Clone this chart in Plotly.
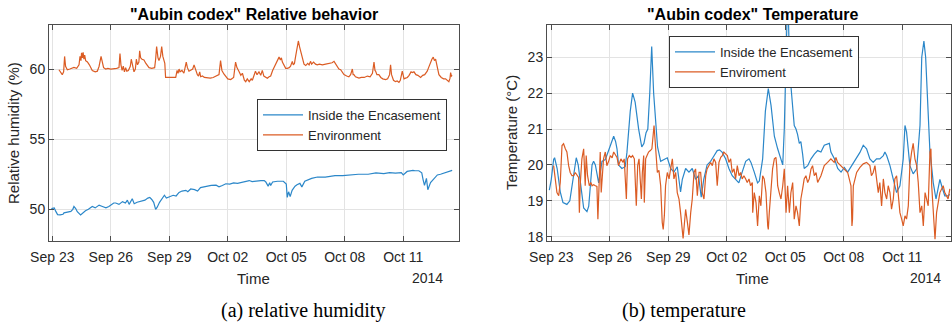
import numpy as np
import pandas as pd
import plotly.graph_objects as go

BASE = pd.Timestamp("2014-09-23")

# ---------------- (a) relative humidity ----------------
rh_env_days = [0.34,0.45,0.51,0.58,0.63,0.68,0.77,0.9,1.0,1.11,1.25,1.37,1.42,1.47,1.5,1.54,1.58,1.62,1.66,1.71,1.8,1.9,2.05,2.2,2.31,2.4,2.5,2.56,2.63,2.74,2.85,3.0,3.15,3.3,3.42,3.47,3.52,3.58,3.64,3.7,3.76,3.82,3.9,4.0,4.05,4.12,4.19,4.26,4.31,4.37,4.44,4.48,4.53,4.6,4.7,4.8,4.96,5.1,5.25,5.3,5.35,5.42,5.47,5.55,5.61,5.67,5.73,5.77,5.81,5.95,6.1,6.25,6.33,6.4,6.45,6.5,6.55,6.65,6.75,6.87,6.93,7.01,7.1,7.2,7.27,7.35,7.44,7.5,7.56,7.61,7.7,7.8,7.95,8.1,8.25,8.4,8.55,8.63,8.7,8.8,8.9,9.0,9.15,9.3,9.4,9.47,9.57,9.67,9.75,9.85,9.92,10.0,10.1,10.2,10.26,10.34,10.42,10.5,10.6,10.69,10.77,10.85,10.95,11.03,11.12,11.2,11.3,11.37,11.45,11.55,11.63,11.7,11.75,11.8,11.9,11.97,12.05,12.15,12.22,12.31,12.36,12.42,12.48,12.55,12.62,12.68,12.74,12.8,12.91,13.0,13.1,13.17,13.25,13.3,13.4,13.5,13.59,13.7,13.85,14.02,14.2,14.35,14.45,14.55,14.62,14.7,14.79,14.88,14.96,15.1,15.21,15.3,15.39,15.43,15.47,15.55,15.65,15.73,15.85,16.0,16.16,16.3,16.42,16.5,16.55,16.58,16.65,16.75,16.85,16.95,17.1,17.2,17.3,17.35,17.4,17.44,17.5,17.6,17.69,17.78,17.85,17.95,18.0,18.04,18.12,18.21,18.3,18.4,18.46,18.55,18.65,18.75,18.89,19.0,19.1,19.23,19.3,19.4,19.47,19.54,19.6,19.66,19.71,19.77,19.83,19.95,20.07,20.17,20.27,20.34,20.4,20.43,20.47,20.51]
rh_env = [59.95,59.7,59.6,59.8,60.9,60.2,59.95,60.0,60.05,60.12,60.05,60.3,60.9,60.6,61.15,60.8,61.2,60.7,61.0,60.6,60.5,60.3,59.9,59.8,59.85,60.2,60.9,60.4,60.1,60.0,60.05,60.0,60.0,60.05,60.1,61.1,60.3,59.9,60.2,59.8,60.1,59.85,59.9,60.2,60.7,60.1,59.8,60.0,60.7,60.3,60.5,61.3,60.8,60.7,60.65,60.4,60.1,60.05,60.1,60.7,61.6,60.8,60.6,60.9,61.6,60.9,60.6,60.4,59.4,59.4,59.35,59.4,59.4,59.9,59.7,60.0,59.8,59.9,59.7,60.5,60.1,59.85,59.9,60.0,60.3,59.9,59.6,59.5,59.8,59.45,59.5,59.4,59.35,59.35,59.4,59.5,59.6,60.6,59.9,59.65,59.5,59.3,59.25,59.4,60.5,60.1,59.85,59.55,59.7,59.2,59.1,59.3,59.1,59.3,59.2,59.6,59.85,59.6,59.8,59.55,59.9,59.5,59.4,59.35,59.45,59.5,59.9,60.1,60.3,60.7,60.85,60.65,60.8,60.5,60.2,60.05,60.05,60.1,60.2,60.55,60.3,60.4,60.9,61.4,62.0,61.6,61.3,60.9,60.35,60.25,60.4,60.3,60.55,60.35,60.5,60.35,60.3,60.35,60.3,60.35,60.4,60.45,60.55,60.3,60.2,60.0,59.95,59.75,59.6,59.5,59.45,59.6,60.0,59.6,59.6,59.45,59.4,59.35,59.4,59.4,59.5,59.45,59.7,60.5,59.9,59.85,59.6,59.6,59.4,59.3,59.25,59.3,59.6,60.3,59.6,59.35,59.2,59.1,59.15,59.05,59.2,59.85,59.5,59.3,59.35,59.4,59.55,59.8,59.75,59.8,59.6,59.55,59.4,59.55,59.6,59.85,60.1,60.5,60.7,60.85,60.6,60.7,60.3,59.9,59.6,59.4,59.3,59.3,59.2,59.1,59.35,59.75,59.5,59.55]

rh_in_days = [-0.05,0.1,0.18,0.27,0.4,0.55,0.6,0.8,0.95,1.05,1.11,1.2,1.28,1.45,1.55,1.7,1.85,1.97,2.05,2.2,2.4,2.57,2.75,2.9,3.0,3.15,3.25,3.42,3.6,3.75,3.85,3.94,4.1,4.2,4.35,4.55,4.75,4.9,5.0,5.1,5.2,5.3,5.38,5.5,5.65,5.75,5.85,6.0,6.2,6.35,6.5,6.65,6.85,6.95,7.1,7.3,7.45,7.6,7.75,7.95,8.15,8.4,8.55,8.72,8.9,9.1,9.3,9.5,9.7,9.9,10.1,10.25,10.34,10.5,10.7,10.87,10.95,11.07,11.15,11.2,11.3,11.55,11.85,12.0,12.05,12.12,12.2,12.3,12.45,12.55,12.7,12.8,12.95,13.3,13.6,14.0,14.2,14.5,14.9,15.3,15.7,16.2,16.6,17.0,17.3,17.6,17.9,18.0,18.2,18.5,18.6,18.8,18.95,19.02,19.09,19.19,19.26,19.4,19.57,19.75,19.91,20.1,20.26,20.4,20.51]
rh_in = [50.05,50.1,49.85,49.62,49.6,49.65,49.75,49.8,49.85,50.0,50.2,50.05,49.83,49.6,49.75,49.9,50.0,50.1,50.2,50.1,50.3,50.2,50.1,50.2,50.3,50.45,50.45,50.35,50.55,50.45,50.65,50.35,50.75,50.4,50.5,50.6,50.65,50.8,50.85,50.7,50.5,50.0,50.15,50.5,50.8,51.0,50.8,50.9,51.0,50.95,51.2,51.3,51.35,51.25,51.45,51.4,51.3,51.55,51.6,51.65,51.7,51.72,51.6,51.7,51.82,51.8,51.88,51.85,51.9,51.95,52.05,51.98,52.0,52.0,52.05,52.05,51.95,51.65,51.9,51.7,51.95,52.0,52.0,51.8,50.85,51.25,50.9,51.35,51.65,51.75,51.85,51.6,52.0,52.2,52.3,52.3,52.35,52.4,52.4,52.45,52.5,52.5,52.6,52.55,52.62,52.58,52.62,52.45,52.7,52.78,52.75,52.75,52.6,52.1,51.7,52.2,51.4,51.9,52.2,52.45,52.5,52.6,52.65,52.72,52.78]

# ---------------- (b) temperature ----------------
t_in_days = [-0.1,0.0,0.12,0.17,0.3,0.46,0.6,0.8,0.95,1.15,1.28,1.38,1.49,1.57,1.66,1.83,1.92,2.09,2.17,2.26,2.43,2.6,2.77,2.94,3.1,3.2,3.3,3.37,3.45,3.62,3.79,3.88,4.05,4.17,4.3,4.48,4.64,4.75,4.86,4.95,5.05,5.15,5.25,5.35,5.45,5.61,5.78,5.95,6.12,6.29,6.46,6.63,6.72,6.89,7.06,7.23,7.4,7.55,7.69,7.82,7.99,8.17,8.34,8.51,8.63,8.77,8.94,9.11,9.28,9.45,9.62,9.79,9.97,10.14,10.24,10.41,10.58,10.67,10.84,10.98,11.13,11.27,11.44,11.61,11.78,11.87,11.95,12.04,12.1,12.17,12.21,12.29,12.38,12.46,12.55,12.63,12.72,12.8,12.89,12.97,13.15,13.32,13.49,13.66,13.83,14.0,14.26,14.34,14.52,14.69,14.86,15.03,15.2,15.32,15.49,15.66,15.83,16.0,16.17,16.34,16.51,16.68,16.85,17.03,17.11,17.2,17.37,17.54,17.71,17.88,18.05,18.14,18.22,18.39,18.56,18.74,18.91,19.0,19.11,19.2,19.33,19.42,19.5,19.59,19.73,19.85,19.93,20.02,20.18,20.35,20.44]
t_in = [19.3,19.6,20.15,20.2,19.9,19.25,18.95,18.9,19.0,19.8,20.2,20.0,19.5,19.05,18.8,18.7,18.85,20.0,20.1,20.0,19.5,20.1,20.15,20.4,20.65,20.8,20.65,20.45,20.0,19.9,19.95,20.35,21.5,22.0,21.75,21.0,20.5,20.6,20.9,21.0,22.0,23.3,22.0,21.1,20.5,20.1,20.15,20.2,19.9,19.8,19.95,19.25,19.6,19.9,19.8,19.9,19.6,19.7,19.1,19.6,20.0,20.1,20.25,20.4,20.42,20.35,20.17,19.9,19.7,19.6,19.5,19.8,20.1,20.17,20.07,19.8,19.5,19.55,20.17,21.5,22.13,21.66,20.8,20.45,20.17,20.0,21.0,23.0,24.3,23.9,23.0,22.2,21.5,21.1,21.0,20.85,20.6,20.65,20.3,19.9,19.98,20.17,20.3,20.4,20.36,20.55,20.6,20.36,20.17,19.9,19.8,19.93,19.8,19.9,20.07,20.2,20.35,20.55,20.45,20.17,20.07,20.17,20.17,20.26,20.36,20.26,19.98,19.6,19.23,19.42,20.17,21.1,20.92,19.98,19.75,19.89,21.1,23.0,23.45,23.0,21.6,20.36,19.98,19.5,19.05,19.33,19.6,19.42,19.14,19.14,19.18]

t_env_days = [0.12,0.21,0.29,0.38,0.46,0.55,0.63,0.72,0.8,0.89,0.97,1.06,1.15,1.23,1.32,1.4,1.44,1.49,1.57,1.66,1.69,1.74,1.79,1.86,1.95,2.03,2.09,2.17,2.26,2.34,2.39,2.44,2.51,2.56,2.63,2.68,2.77,2.85,2.94,3.03,3.12,3.2,3.37,3.45,3.57,3.68,3.74,3.85,3.91,4.0,4.09,4.17,4.26,4.36,4.43,4.5,4.56,4.62,4.67,4.74,4.77,4.84,4.91,4.99,5.08,5.16,5.27,5.35,5.44,5.52,5.61,5.69,5.74,5.8,5.86,5.95,6.04,6.12,6.21,6.29,6.38,6.46,6.55,6.63,6.68,6.72,6.76,6.8,6.89,6.98,7.06,7.15,7.23,7.32,7.4,7.49,7.58,7.66,7.74,7.83,7.92,7.99,8.09,8.17,8.26,8.34,8.43,8.51,8.6,8.69,8.77,8.85,8.94,9.03,9.11,9.2,9.28,9.37,9.45,9.54,9.63,9.71,9.79,9.88,9.97,10.05,10.14,10.22,10.31,10.33,10.41,10.5,10.58,10.67,10.75,10.84,10.92,11.01,11.1,11.13,11.18,11.27,11.35,11.44,11.52,11.56,11.61,11.69,11.78,11.87,11.95,12.04,12.12,12.21,12.29,12.38,12.46,12.55,12.63,12.72,12.8,12.89,12.97,13.06,13.15,13.23,13.32,13.4,13.49,13.58,13.66,13.83,14.0,14.17,14.34,14.51,14.6,14.68,14.86,15.03,15.2,15.37,15.42,15.45,15.49,15.57,15.66,15.83,16.0,16.17,16.34,16.42,16.51,16.6,16.68,16.77,16.85,16.94,17.03,17.11,17.2,17.28,17.37,17.45,17.54,17.62,17.71,17.79,17.88,17.97,18.05,18.14,18.22,18.31,18.39,18.48,18.56,18.65,18.74,18.82,18.91,19.0,19.08,19.17,19.25,19.33,19.42,19.47,19.51,19.59,19.68,19.76,19.85,19.93,20.1,20.18,20.27,20.35,20.44]
t_env = [19.98,19.61,19.23,19.14,19.51,20.54,20.59,20.45,20.36,19.98,19.79,19.7,19.7,19.79,19.7,19.65,18.67,19.51,20.17,20.45,20.07,19.42,20.26,19.7,19.42,19.51,19.42,19.45,19.42,19.4,18.49,19.33,20.36,19.23,19.79,20.17,20.36,19.98,20.1,20.26,20.2,20.36,20.21,19.98,20.17,20.07,20.17,19.05,20.17,20.26,20.21,20.26,20.17,18.86,19.98,20.17,19.61,19.05,19.79,20.26,18.95,20.17,20.26,20.36,20.4,20.45,21.1,20.36,19.79,19.85,19.42,18.4,18.2,18.6,19.42,19.79,19.61,19.89,20.17,19.61,19.79,19.23,19.05,18.67,18.3,18.1,17.95,18.2,18.76,18.4,18.05,18.67,19.05,19.79,19.89,19.14,19.79,19.79,19.23,19.05,19.7,19.89,19.98,20.07,19.98,20.17,20.07,19.42,20.07,20.21,20.26,20.36,20.31,20.26,20.07,20.17,19.79,19.89,19.61,19.98,19.7,19.79,19.61,19.7,19.61,19.51,19.61,19.42,19.51,18.67,19.23,18.95,18.3,19.14,18.86,19.7,19.61,19.23,18.3,18.2,18.67,19.42,19.89,20.17,20.21,19.98,19.42,19.23,19.05,19.42,19.89,18.67,19.42,18.67,19.23,19.51,18.49,18.86,18.67,18.3,19.05,19.33,19.61,19.7,19.51,19.61,19.89,19.98,19.7,19.79,19.51,19.7,19.98,20.07,20.17,20.07,20.21,20.07,19.98,19.89,19.79,19.42,18.3,18.49,19.42,19.61,19.79,19.93,20.03,20.07,19.98,19.7,19.79,19.98,19.61,19.23,19.51,18.86,19.61,19.23,19.05,19.42,19.23,18.77,19.05,19.61,19.7,19.23,18.67,18.49,18.3,18.58,18.49,18.86,19.98,20.36,20.6,20.17,19.98,19.51,18.67,18.86,18.3,19.23,19.05,18.86,20.36,20.45,19.42,18.6,17.93,18.67,19.05,19.23,19.42,19.23,19.14,19.05,19.33]

date_ticks = ["2014-09-23", "2014-09-26", "2014-09-29", "2014-10-02", "2014-10-05", "2014-10-08", "2014-10-11"]
date_labels = ["Sep 23", "Sep 26", "Sep 29", "Oct 02", "Oct 05", "Oct 08", "Oct 11"]

BLUE = "#2b87c9"
ORANGE = "#db5c24"
TXT = "#262626"
AX = "#4d4d4d"
GRID = "#e3e3e3"
SANS = "Liberation Sans, Arial, sans-serif"
SERIF = "Liberation Serif, Times New Roman, serif"


def to_time(days):
    return BASE + pd.to_timedelta(np.asarray(days, dtype=float), unit="D")


fig = go.Figure()
fig.add_trace(go.Scatter(x=to_time(rh_in_days), y=rh_in, mode="lines", name="Inside the Encasement",
                         line=dict(color=BLUE, width=1.2), xaxis="x", yaxis="y", legend="legend"))
fig.add_trace(go.Scatter(x=to_time(rh_env_days), y=rh_env, mode="lines", name="Environment",
                         line=dict(color=ORANGE, width=1.2), xaxis="x", yaxis="y", legend="legend"))
fig.add_trace(go.Scatter(x=to_time(t_in_days), y=t_in, mode="lines", name="Inside the Encasement",
                         line=dict(color=BLUE, width=1.2), xaxis="x2", yaxis="y2", legend="legend2"))
fig.add_trace(go.Scatter(x=to_time(t_env_days), y=t_env, mode="lines", name="Enviroment",
                         line=dict(color=ORANGE, width=1.2), xaxis="x2", yaxis="y2", legend="legend2"))

W, H = 952, 323
ydom = [(H - 241) / H, (H - 25) / H]

common_x = dict(type="date", tickvals=date_ticks, ticktext=date_labels, showgrid=True, gridcolor=GRID,
                gridwidth=1, showline=True, linecolor=AX, linewidth=1, mirror="ticks", ticks="inside",
                ticklen=5, tickcolor=AX, tickfont=dict(family=SANS, size=14, color=TXT), zeroline=False,
                automargin=False, ticklabelstandoff=3)
common_y = dict(showgrid=True, gridcolor=GRID, gridwidth=1, showline=True, linecolor=AX, linewidth=1,
                mirror="ticks", ticks="inside", ticklen=5, tickcolor=AX,
                tickfont=dict(family=SANS, size=14, color=TXT), zeroline=False, automargin=False)

x1r = [BASE + pd.Timedelta(days=-0.17), BASE + pd.Timedelta(days=20.86)]
x2r = [BASE + pd.Timedelta(days=-0.22), BASE + pd.Timedelta(days=20.5)]

fig.update_layout(
    template="none",
    width=W, height=H, autosize=False, margin=dict(l=0, r=0, t=0, b=0, pad=0),
    paper_bgcolor="white", plot_bgcolor="white",
    font=dict(family=SANS, color=TXT),
    xaxis=dict(domain=[49 / W, 459 / W], range=x1r, anchor="y", **common_x),
    yaxis=dict(domain=ydom, range=[47.74, 63.14], tickvals=[50, 55, 60], anchor="x", **common_y),
    xaxis2=dict(domain=[547 / W, 951 / W], range=x2r, anchor="y2", **common_x),
    yaxis2=dict(domain=ydom, range=[17.88, 23.9], tickvals=[18, 19, 20, 21, 22, 23], anchor="x2", **common_y),
    legend=dict(x=257 / W, y=(H - 99) / H, xanchor="left", yanchor="top", bgcolor="white",
                bordercolor="#333333", borderwidth=1, font=dict(family=SANS, size=13, color=TXT),
                itemwidth=40, tracegroupgap=0),
    legend2=dict(x=669 / W, y=(H - 36) / H, xanchor="left", yanchor="top", bgcolor="white",
                 bordercolor="#333333", borderwidth=1, font=dict(family=SANS, size=13, color=TXT),
                 itemwidth=40, tracegroupgap=0),
    showlegend=True,
)

ann = []
def add_text(text, x, y, size, color=TXT, family=SANS, xanchor="center", textangle=0):
    ann.append(dict(text=text, x=x / W, y=1 - y / H, xref="paper", yref="paper", showarrow=False,
                    xanchor=xanchor, yanchor="middle", textangle=textangle,
                    font=dict(family=family, size=size, color=color)))

add_text('<b>"Aubin codex" Relative behavior</b>', 254, 15, 16, color="#000000")
add_text('<b>"Aubin codex" Temperature</b>', 752, 15, 16, color="#000000")
add_text("Relative humidity (%)", 13, 133, 15, textangle=-90)
add_text("Temperature (°C)", 511, 133, 15, textangle=-90)
add_text("Time", 253, 278, 15)
add_text("Time", 752, 278, 15)
add_text("2014", 445, 278, 14, xanchor="right")
add_text("2014", 943, 278, 14, xanchor="right")
add_text("(a) relative humidity", 303, 310, 20, color="#000000", family=SERIF)
add_text("(b) temperature", 684, 310, 20, color="#000000", family=SERIF)
fig.update_layout(annotations=ann)

fig.write_html("out.html", config={"displayModeBar": False},
               post_script="document.body.style.margin='0';document.body.style.overflow='hidden';")
